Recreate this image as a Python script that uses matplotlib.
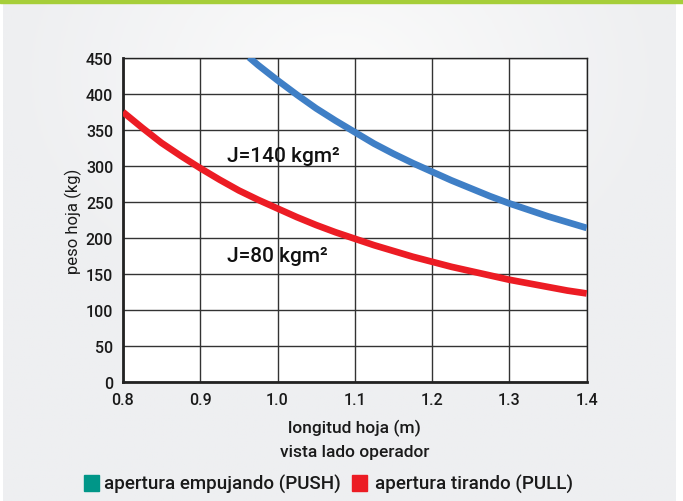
import numpy as np
import matplotlib.pyplot as plt
from matplotlib.patches import Rectangle

# values
push_x = [0.963, 0.975, 1.0, 1.025, 1.05, 1.075, 1.1, 1.125, 1.15, 1.175, 1.2,
          1.225, 1.25, 1.275, 1.3, 1.325, 1.35, 1.375, 1.4]
push_y = [451, 440, 419, 399, 380, 363, 347, 331, 317, 304, 292,
          280, 269, 258, 248, 239, 230, 222, 214]
pull_x = [0.8, 0.825, 0.85, 0.875, 0.9, 0.925, 0.95, 0.975, 1.0, 1.025, 1.05,
          1.075, 1.1, 1.125, 1.15, 1.175, 1.2, 1.225, 1.25, 1.275, 1.3,
          1.325, 1.35, 1.375, 1.4]
pull_y = [375, 353, 332, 314, 297, 281, 266, 253, 241, 229, 218,
          208, 199, 190, 182, 174, 167, 160, 154, 148, 142,
          137, 132, 127, 123]
x_ticks = [0.8, 0.9, 1.0, 1.1, 1.2, 1.3, 1.4]
y_ticks = [0, 50, 100, 150, 200, 250, 300, 350, 400, 450]

plt.rcParams['font.family'] = ['Roboto', 'DejaVu Sans']
plt.rcParams['font.weight'] = 'medium'

fig = plt.figure(figsize=(6.83, 5.02), dpi=100)
fig.patch.set_facecolor('white')

# soft grey background with a light centre
bg = fig.add_axes([0.004, 0, 0.985, 1], zorder=-10)
gx, gy = np.meshgrid(np.linspace(-1, 1, 300), np.linspace(-0.3, 1.7, 220))
r = np.sqrt(gx ** 2 + gy ** 2)
bg.imshow(np.clip(r, 0, 1), cmap=plt.cm.colors.LinearSegmentedColormap.from_list(
    'g', ['#fbfbfb', '#eeeff1']), aspect='auto', extent=[0, 1, 0, 1])
bg.axis('off')
fig.add_artist(Rectangle((0, 0.992), 1, 0.008, transform=fig.transFigure,
                         color='#a6ce39', zorder=5))

ax = fig.add_axes([0.180, 0.237, 0.679, 0.6455])
ax.set_facecolor('white')
ax.plot(push_x, push_y, color='#3f7fc6', lw=4.8, solid_capstyle='butt',
        solid_joinstyle='round', zorder=3)
ax.plot(pull_x, pull_y, color='#ec1c24', lw=4.8, solid_capstyle='butt',
        solid_joinstyle='round', zorder=3)

ax.set_xlim(0.8, 1.4)
ax.set_ylim(0, 450)
ax.set_xticks(x_ticks)
ax.set_xticklabels([f"{v:.1f}" for v in x_ticks])
ax.set_yticks(y_ticks)
ax.grid(True, color='#333333', lw=1)
ax.tick_params(length=0, labelsize=11.5, pad=7, colors='#1a1a1a')
for s in ax.spines.values():
    s.set_color('#222222')
    s.set_linewidth(1)
ax.spines['left'].set_linewidth(2)
ax.spines['bottom'].set_linewidth(2)
ax.set_axisbelow(True)

ax.text(0.935, 315, "J=140 kgm²", fontsize=15, va='center', color='#111111', zorder=4)
ax.text(0.935, 176, "J=80 kgm²", fontsize=15, va='center', color='#111111', zorder=4)

ax.set_ylabel("peso hoja (kg)", fontsize=12, color='#1a1a1a', labelpad=3)
fig.text(0.519, 1 - 428 / 502, "longitud hoja (m)", fontsize=12.5, ha='center', va='center', color='#1a1a1a')
fig.text(0.519, 1 - 453 / 502, "vista lado operador", fontsize=12.5, ha='center', va='center', color='#1a1a1a')

# legend row
ly = 1 - 484 / 502
fig.add_artist(Rectangle((84 / 683, ly - 8 / 502), 15 / 683, 16 / 502,
                         transform=fig.transFigure, color='#009688'))
fig.text(104 / 683, ly, "apertura empujando (PUSH)", fontsize=13.5, va='center', color='#1a1a1a')
fig.add_artist(Rectangle((352 / 683, ly - 8 / 502), 15 / 683, 16 / 502,
                         transform=fig.transFigure, color='#ec1c24'))
fig.text(375 / 683, ly, "apertura tirando (PULL)", fontsize=13.5, va='center', color='#1a1a1a')

fig.savefig("out.png", dpi=100)
